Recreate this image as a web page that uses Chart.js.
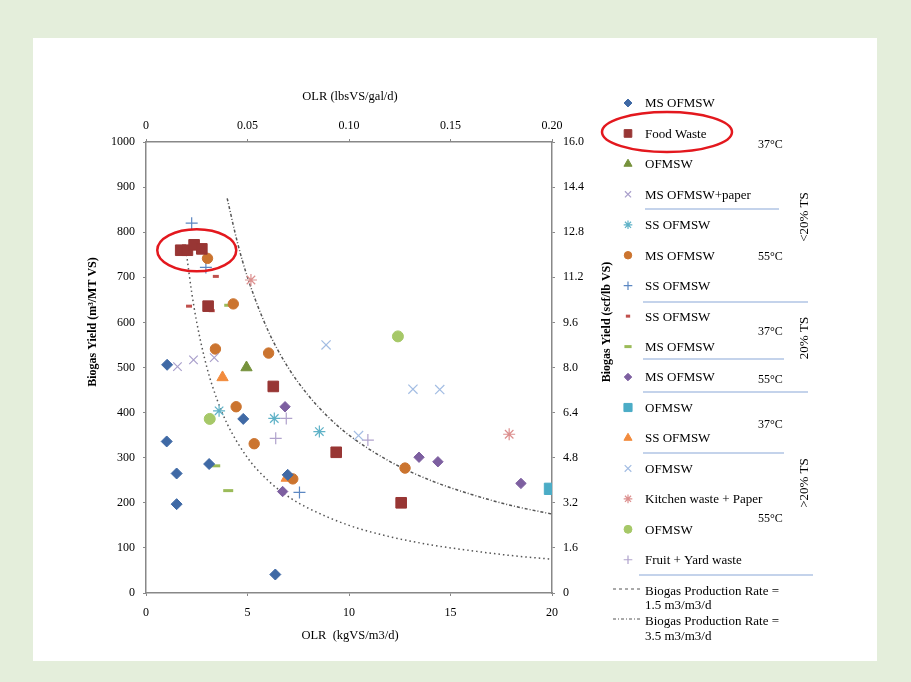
<!DOCTYPE html>
<html>
<head>
<meta charset="utf-8">
<script src="https://cdn.jsdelivr.net/npm/chart.js@4.4.1/dist/chart.umd.min.js"></script>
<style>
  html, body { margin: 0; padding: 0; }
  body { width: 911px; height: 682px; background: #e4eedb; position: relative; overflow: hidden; }
  #panel { position: absolute; left: 33px; top: 38px; width: 844px; height: 623px; background: #fff; }
  #wrap { position: absolute; left: 0; top: 0; width: 911px; height: 682px; }
</style>
</head>
<body>
<div id="panel"></div>
<div id="wrap"><canvas id="chart" width="911" height="682" style="width:911px;height:682px"></canvas></div>
<script>
// ---- data (x = OLR kgVS/m3/d, y = biogas yield m3/MT VS) ----
const msOfmsw37X = [1.04, 1.02, 1.51, 1.51, 3.11, 4.79, 6.37, 6.98];
const msOfmsw37Y = [506, 336, 265, 197, 286, 386, 41, 262];
const foodWasteX = [1.71, 2.04, 2.37, 2.75, 3.06, 6.27, 9.37, 12.57];
const foodWasteY = [760, 760, 772, 763, 636, 458, 312, 200];
const ofmsw37X = [4.95];
const ofmsw37Y = [500];
const msPaperX = [1.55, 2.34, 3.36];
const msPaperY = [502, 517, 522];
const ssOfmsw37X = [3.6, 6.32, 8.54];
const ssOfmsw37Y = [404, 387, 358];
const msOfmsw55X = [3.03, 4.3, 3.42, 6.04, 4.44, 5.33, 7.23, 12.76];
const msOfmsw55Y = [742, 641, 541, 532, 413, 331, 253, 277];
const ssOfmsw55X = [2.25, 2.95, 7.56];
const ssOfmsw55Y = [820, 722, 223];
const ss20ts37X = [3.44, 2.12, 3.24];
const ss20ts37Y = [702, 636, 626];
const ms20ts37X = [4.1, 3.41, 4.05];
const ms20ts37Y = [638, 282, 227];
const ms20ts55X = [6.85, 6.73, 13.45, 14.38, 18.47];
const ms20ts55Y = [413, 225, 301, 291, 243];
const ofHigh37X = [19.9];
const ofHigh37Y = [231];
const ssHigh37X = [3.77, 6.93];
const ssHigh37Y = [478, 255];
const ofHighX37X = [8.87, 10.47, 13.15, 14.47];
const ofHighX37Y = [550, 349, 452, 451];
const kitchenX = [5.17, 17.89];
const kitchenY = [694, 352];
const ofHigh55X = [3.14, 12.41];
const ofHigh55Y = [386, 569];
const fruitYardX = [6.91, 6.39, 10.93];
const fruitYardY = [387, 343, 339];

// production-rate curves
const rate15X = [2, 2.25, 2.5, 3, 3.5, 4, 5, 6, 7, 8, 10, 12, 14, 16, 18, 20];
const rate15Y = [750, 667, 600, 500, 429, 375, 300, 250, 214, 188, 150, 125, 107, 94, 83, 75];
const rate35X = [4, 4.5, 5, 6, 7, 8, 9, 10, 12, 14, 16, 18, 20];
const rate35Y = [875, 778, 700, 583, 500, 438, 389, 350, 292, 250, 219, 194, 175];

const legendLabels = ['MS OFMSW', 'Food Waste', 'OFMSW', 'MS OFMSW+paper', 'SS OFMSW', 'MS OFMSW',
  'SS OFMSW', 'SS OFMSW', 'MS OFMSW', 'MS OFMSW', 'OFMSW', 'SS OFMSW', 'OFMSW',
  'Kitchen waste + Paper', 'OFMSW', 'Fruit + Yard waste'];
const topTickLabels = ['0', '0.05', '0.10', '0.15', '0.20'];
const rightTickLabels = ['0', '1.6', '3.2', '4.8', '6.4', '8.0', '9.6', '11.2', '12.8', '14.4', '16.0'];

const FONT = "'Liberation Serif', 'Times New Roman', serif";

const pts = (xs, ys) => xs.map((x, i) => ({ x: x, y: ys[i] }));

// marker series: [xs, ys, style, colour, radius, lineWidth]
const series = [
    [msOfmsw37X, msOfmsw37Y, 'rectRot', '#3f69a5', 5.5, 1],
    [foodWasteX, foodWasteY, 'rect', '#983634', 7.5, 1],
    [ofmsw37X, ofmsw37Y, 'triangle', '#76923c', 6.5, 1],
    [msPaperX, msPaperY, 'crossRot', '#a99fcb', 6, 1.2],
    [ssOfmsw37X, ssOfmsw37Y, 'star', '#5fb2c7', 6, 1.2],
    [msOfmsw55X, msOfmsw55Y, 'circle', '#cb742f', 5.2, 1],
    [ssOfmsw55X, ssOfmsw55Y, 'cross', '#5b87c2', 6, 1.2],
    [ss20ts37X, ss20ts37Y, 'line', '#c0504d', 3, 3],
    [ms20ts37X, ms20ts37Y, 'line', '#9bbb59', 5, 3],
    [ms20ts55X, ms20ts55Y, 'rectRot', '#7d5fa0', 5.2, 1],
    [ofHigh37X, ofHigh37Y, 'rect', '#4bacc6', 8, 1],
    [ssHigh37X, ssHigh37Y, 'triangle', '#f28b3d', 6.5, 1],
    [ofHighX37X, ofHighX37Y, 'crossRot', '#a3bde3', 6.5, 1.2],
    [kitchenX, kitchenY, 'star', '#dc8f8e', 6, 1.2],
    [ofHigh55X, ofHigh55Y, 'circle', '#a6c868', 5.5, 1],
    [fruitYardX, fruitYardY, 'cross', '#b0a2cc', 6, 1.2]
];

const datasets = series.map((s, i) => ({
    label: legendLabels[i],
    data: pts(s[0], s[1]),
    pointStyle: s[2],
    backgroundColor: s[3],
    borderColor: s[3],
    pointRadius: s[4],
    pointBorderWidth: s[5],
    showLine: false
}));

datasets.push({
    label: 'Biogas Production Rate = 1.5 m3/m3/d',
    data: pts(rate15X, rate15Y),
    showLine: true, pointRadius: 0, borderColor: '#555', borderWidth: 1.5,
    borderDash: [1.5, 3], cubicInterpolationMode: 'monotone', fill: false
});
datasets.push({
    label: 'Biogas Production Rate = 3.5 m3/m3/d',
    data: pts(rate35X, rate35Y),
    showLine: true, pointRadius: 0, borderColor: '#555', borderWidth: 1.5,
    borderDash: [3, 2, 1, 2], cubicInterpolationMode: 'monotone', fill: false
});

const rotated = (ctx, text, x, y) => {
    ctx.save();
    ctx.translate(x, y);
    ctx.rotate(-Math.PI / 2);
    ctx.fillText(text, 0, 0);
    ctx.restore();
};

// Titles, legend, group labels and the red highlight ellipses
const decorations = {
    id: 'decorations',
    afterDraw(chart) {
        const ctx = chart.ctx;
        ctx.save();
        ctx.fillStyle = '#000';
        ctx.textBaseline = 'middle';

        ctx.textAlign = 'center';
        ctx.font = '12.5px ' + FONT;
        ctx.fillText('OLR (lbsVS/gal/d)', 350, 97);
        ctx.fillText('OLR  (kgVS/m3/d)', 350, 636);
        ctx.font = 'bold 12px ' + FONT;
        rotated(ctx, 'Biogas Yield (m\u00b3/MT VS)', 93, 322);
        rotated(ctx, 'Biogas Yield (scf/lb VS)', 607, 322);

        // legend rows
        ctx.textAlign = 'left';
        ctx.font = '13px ' + FONT;
        series.forEach((s, i) => {
            const y = 103 + i * 30.45;
            ctx.fillStyle = s[3];
            ctx.strokeStyle = s[3];
            ctx.lineWidth = s[5];
            Chart.helpers.drawPoint(ctx, {
                pointStyle: s[2], radius: s[4] * 0.72, borderWidth: s[5], rotation: 0
            }, 628, y);
            ctx.fillStyle = '#000';
            ctx.fillText(legendLabels[i], 645, y + 1);
        });

        // curve legend
        ctx.strokeStyle = '#555';
        ctx.lineWidth = 1;
        ctx.setLineDash([3, 3]);
        ctx.beginPath(); ctx.moveTo(613, 589); ctx.lineTo(640, 589); ctx.stroke();
        ctx.setLineDash([3, 2, 1, 2]);
        ctx.beginPath(); ctx.moveTo(613, 619); ctx.lineTo(640, 619); ctx.stroke();
        ctx.setLineDash([]);
        ctx.fillText('Biogas Production Rate =', 645, 592);
        ctx.fillText('1.5 m3/m3/d', 645, 606);
        ctx.fillText('Biogas Production Rate =', 645, 622);
        ctx.fillText('3.5 m3/m3/d', 645, 637);

        // temperature labels
        ctx.font = '12px ' + FONT;
        [['37\u00b0C', 145], ['55\u00b0C', 257], ['37\u00b0C', 332], ['55\u00b0C', 380], ['37\u00b0C', 425], ['55\u00b0C', 519]]
            .forEach(t => ctx.fillText(t[0], 758, t[1]));

        // group separators
        ctx.strokeStyle = '#8aa8d8';
        ctx.lineWidth = 1.2;
        [[645, 779, 209], [643, 808, 302], [643, 784, 359], [643, 808, 392], [643, 784, 453], [639, 813, 575]]
            .forEach(l => { ctx.beginPath(); ctx.moveTo(l[0], l[2]); ctx.lineTo(l[1], l[2]); ctx.stroke(); });

        // TS group labels
        ctx.textAlign = 'center';
        ctx.font = '13px ' + FONT;
        rotated(ctx, '<20% TS', 805, 217);
        rotated(ctx, '20% TS', 805, 338);
        rotated(ctx, '>20% TS', 805, 483);

        // red ellipses
        ctx.strokeStyle = '#e3181e';
        ctx.lineWidth = 2.5;
        const cx = chart.scales.x.getPixelForValue(2.5);
        const cy = chart.scales.y.getPixelForValue(760);
        ctx.beginPath(); ctx.ellipse(cx, cy, 39.5, 21, 0, 0, Math.PI * 2); ctx.stroke();
        ctx.beginPath(); ctx.ellipse(667, 132, 65, 20, 0, 0, Math.PI * 2); ctx.stroke();
        ctx.restore();
    }
};

const tickFont = { family: FONT, size: 12 };
const axisBase = {
    grid: { display: true, drawOnChartArea: false, drawTicks: true, tickLength: 3, color: '#888' },
    border: { display: true, color: '#888', width: 1.5 },
    min: 0
};

new Chart(document.getElementById('chart'), {
    type: 'scatter',
    data: { datasets: datasets },
    options: {
        responsive: false,
        animation: false,
        layout: { padding: { left: 0, top: 0, right: 299, bottom: 0 } },
        plugins: { legend: { display: false }, tooltip: { enabled: false } },
        scales: {
            x: {
                ...axisBase, type: 'linear', position: 'bottom', max: 20,
                ticks: { stepSize: 5, font: tickFont, color: '#000', padding: 10, maxRotation: 0,
                    callback: v => String(v) },
                afterFit: s => { s.height = 89; }
            },
            x2: {
                ...axisBase, type: 'linear', position: 'top', max: 20,
                ticks: { stepSize: 5, font: tickFont, color: '#000', padding: 6, maxRotation: 0,
                    callback: (v, i) => topTickLabels[i] },
                afterFit: s => { s.height = 142; }
            },
            y: {
                ...axisBase, type: 'linear', position: 'left', max: 1000,
                ticks: { stepSize: 100, font: tickFont, color: '#000', padding: 8,
                    callback: v => String(v) },
                afterFit: s => { s.width = 146; }
            },
            y2: {
                ...axisBase, type: 'linear', position: 'right', max: 1000,
                ticks: { stepSize: 100, font: tickFont, color: '#000', padding: 8,
                    callback: (v, i) => rightTickLabels[i] },
                afterFit: s => { s.width = 60; }
            }
        }
    },
    plugins: [decorations]
});
</script>
</body>
</html>
